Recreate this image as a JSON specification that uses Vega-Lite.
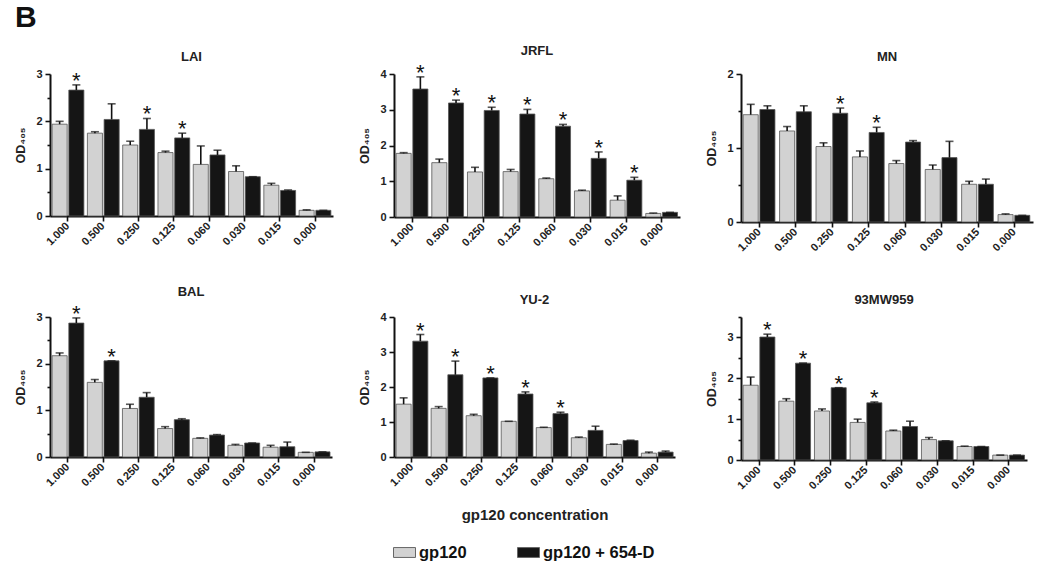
{
  "$schema": "https://vega.github.io/schema/vega-lite/v6.json",
  "background": "white",
  "padding": {"left": 14, "top": 2, "right": 5, "bottom": 5},
  "title": {"text": "B", "anchor": "start", "fontSize": 30, "font": "Liberation Sans", "fontWeight": "bold", "color": "#111", "frame": "bounds", "offset": 12},
  "datasets": {
    "d": [
      {"s": "LAI", "c": "1.000", "g": "gp120", "m": 1.94, "hi": 2.0, "sig": false},
      {"s": "LAI", "c": "1.000", "g": "gp120 + 654-D", "m": 2.66, "hi": 2.77, "sig": true},
      {"s": "LAI", "c": "0.500", "g": "gp120", "m": 1.75, "hi": 1.78, "sig": false},
      {"s": "LAI", "c": "0.500", "g": "gp120 + 654-D", "m": 2.04, "hi": 2.37, "sig": false},
      {"s": "LAI", "c": "0.250", "g": "gp120", "m": 1.5, "hi": 1.58, "sig": false},
      {"s": "LAI", "c": "0.250", "g": "gp120 + 654-D", "m": 1.83, "hi": 2.06, "sig": true},
      {"s": "LAI", "c": "0.125", "g": "gp120", "m": 1.34, "hi": 1.37, "sig": false},
      {"s": "LAI", "c": "0.125", "g": "gp120 + 654-D", "m": 1.65, "hi": 1.75, "sig": true},
      {"s": "LAI", "c": "0.060", "g": "gp120", "m": 1.09, "hi": 1.48, "sig": false},
      {"s": "LAI", "c": "0.060", "g": "gp120 + 654-D", "m": 1.29, "hi": 1.39, "sig": false},
      {"s": "LAI", "c": "0.030", "g": "gp120", "m": 0.94, "hi": 1.06, "sig": false},
      {"s": "LAI", "c": "0.030", "g": "gp120 + 654-D", "m": 0.83, "hi": 0.83, "sig": false},
      {"s": "LAI", "c": "0.015", "g": "gp120", "m": 0.65, "hi": 0.69, "sig": false},
      {"s": "LAI", "c": "0.015", "g": "gp120 + 654-D", "m": 0.54, "hi": 0.55, "sig": false},
      {"s": "LAI", "c": "0.000", "g": "gp120", "m": 0.12, "hi": 0.13, "sig": false},
      {"s": "LAI", "c": "0.000", "g": "gp120 + 654-D", "m": 0.12, "hi": 0.12, "sig": false},

      {"s": "JRFL", "c": "1.000", "g": "gp120", "m": 1.78, "hi": 1.8, "sig": false},
      {"s": "JRFL", "c": "1.000", "g": "gp120 + 654-D", "m": 3.58, "hi": 3.92, "sig": true},
      {"s": "JRFL", "c": "0.500", "g": "gp120", "m": 1.52, "hi": 1.62, "sig": false},
      {"s": "JRFL", "c": "0.500", "g": "gp120 + 654-D", "m": 3.19, "hi": 3.27, "sig": true},
      {"s": "JRFL", "c": "0.250", "g": "gp120", "m": 1.26, "hi": 1.39, "sig": false},
      {"s": "JRFL", "c": "0.250", "g": "gp120 + 654-D", "m": 2.98, "hi": 3.07, "sig": true},
      {"s": "JRFL", "c": "0.125", "g": "gp120", "m": 1.27, "hi": 1.33, "sig": false},
      {"s": "JRFL", "c": "0.125", "g": "gp120 + 654-D", "m": 2.88, "hi": 3.01, "sig": true},
      {"s": "JRFL", "c": "0.060", "g": "gp120", "m": 1.07, "hi": 1.09, "sig": false},
      {"s": "JRFL", "c": "0.060", "g": "gp120 + 654-D", "m": 2.54, "hi": 2.59, "sig": true},
      {"s": "JRFL", "c": "0.030", "g": "gp120", "m": 0.73, "hi": 0.75, "sig": false},
      {"s": "JRFL", "c": "0.030", "g": "gp120 + 654-D", "m": 1.64, "hi": 1.82, "sig": true},
      {"s": "JRFL", "c": "0.015", "g": "gp120", "m": 0.47, "hi": 0.59, "sig": false},
      {"s": "JRFL", "c": "0.015", "g": "gp120 + 654-D", "m": 1.03, "hi": 1.11, "sig": true},
      {"s": "JRFL", "c": "0.000", "g": "gp120", "m": 0.1, "hi": 0.11, "sig": false},
      {"s": "JRFL", "c": "0.000", "g": "gp120 + 654-D", "m": 0.13, "hi": 0.13, "sig": false},

      {"s": "MN", "c": "1.000", "g": "gp120", "m": 1.45, "hi": 1.59, "sig": false},
      {"s": "MN", "c": "1.000", "g": "gp120 + 654-D", "m": 1.52, "hi": 1.57, "sig": false},
      {"s": "MN", "c": "0.500", "g": "gp120", "m": 1.23, "hi": 1.29, "sig": false},
      {"s": "MN", "c": "0.500", "g": "gp120 + 654-D", "m": 1.49, "hi": 1.57, "sig": false},
      {"s": "MN", "c": "0.250", "g": "gp120", "m": 1.02, "hi": 1.07, "sig": false},
      {"s": "MN", "c": "0.250", "g": "gp120 + 654-D", "m": 1.47, "hi": 1.54, "sig": true},
      {"s": "MN", "c": "0.125", "g": "gp120", "m": 0.88, "hi": 0.96, "sig": false},
      {"s": "MN", "c": "0.125", "g": "gp120 + 654-D", "m": 1.21, "hi": 1.28, "sig": true},
      {"s": "MN", "c": "0.060", "g": "gp120", "m": 0.79, "hi": 0.83, "sig": false},
      {"s": "MN", "c": "0.060", "g": "gp120 + 654-D", "m": 1.08, "hi": 1.1, "sig": false},
      {"s": "MN", "c": "0.030", "g": "gp120", "m": 0.71, "hi": 0.77, "sig": false},
      {"s": "MN", "c": "0.030", "g": "gp120 + 654-D", "m": 0.87, "hi": 1.09, "sig": false},
      {"s": "MN", "c": "0.015", "g": "gp120", "m": 0.51, "hi": 0.55, "sig": false},
      {"s": "MN", "c": "0.015", "g": "gp120 + 654-D", "m": 0.51, "hi": 0.58, "sig": false},
      {"s": "MN", "c": "0.000", "g": "gp120", "m": 0.1, "hi": 0.11, "sig": false},
      {"s": "MN", "c": "0.000", "g": "gp120 + 654-D", "m": 0.09, "hi": 0.09, "sig": false},

      {"s": "BAL", "c": "1.000", "g": "gp120", "m": 2.17, "hi": 2.23, "sig": false},
      {"s": "BAL", "c": "1.000", "g": "gp120 + 654-D", "m": 2.87, "hi": 2.98, "sig": true},
      {"s": "BAL", "c": "0.500", "g": "gp120", "m": 1.6, "hi": 1.66, "sig": false},
      {"s": "BAL", "c": "0.500", "g": "gp120 + 654-D", "m": 2.06, "hi": 2.06, "sig": true},
      {"s": "BAL", "c": "0.250", "g": "gp120", "m": 1.04, "hi": 1.13, "sig": false},
      {"s": "BAL", "c": "0.250", "g": "gp120 + 654-D", "m": 1.28, "hi": 1.38, "sig": false},
      {"s": "BAL", "c": "0.125", "g": "gp120", "m": 0.61, "hi": 0.65, "sig": false},
      {"s": "BAL", "c": "0.125", "g": "gp120 + 654-D", "m": 0.8, "hi": 0.82, "sig": false},
      {"s": "BAL", "c": "0.060", "g": "gp120", "m": 0.4, "hi": 0.41, "sig": false},
      {"s": "BAL", "c": "0.060", "g": "gp120 + 654-D", "m": 0.47, "hi": 0.48, "sig": false},
      {"s": "BAL", "c": "0.030", "g": "gp120", "m": 0.25, "hi": 0.27, "sig": false},
      {"s": "BAL", "c": "0.030", "g": "gp120 + 654-D", "m": 0.3, "hi": 0.3, "sig": false},
      {"s": "BAL", "c": "0.015", "g": "gp120", "m": 0.21, "hi": 0.25, "sig": false},
      {"s": "BAL", "c": "0.015", "g": "gp120 + 654-D", "m": 0.22, "hi": 0.32, "sig": false},
      {"s": "BAL", "c": "0.000", "g": "gp120", "m": 0.1, "hi": 0.1, "sig": false},
      {"s": "BAL", "c": "0.000", "g": "gp120 + 654-D", "m": 0.11, "hi": 0.11, "sig": false},

      {"s": "YU-2", "c": "1.000", "g": "gp120", "m": 1.51, "hi": 1.69, "sig": false},
      {"s": "YU-2", "c": "1.000", "g": "gp120 + 654-D", "m": 3.31, "hi": 3.5, "sig": true},
      {"s": "YU-2", "c": "0.500", "g": "gp120", "m": 1.39, "hi": 1.44, "sig": false},
      {"s": "YU-2", "c": "0.500", "g": "gp120 + 654-D", "m": 2.35, "hi": 2.74, "sig": true},
      {"s": "YU-2", "c": "0.250", "g": "gp120", "m": 1.18, "hi": 1.22, "sig": false},
      {"s": "YU-2", "c": "0.250", "g": "gp120 + 654-D", "m": 2.26, "hi": 2.26, "sig": true},
      {"s": "YU-2", "c": "0.125", "g": "gp120", "m": 1.02, "hi": 1.02, "sig": false},
      {"s": "YU-2", "c": "0.125", "g": "gp120 + 654-D", "m": 1.8, "hi": 1.86, "sig": true},
      {"s": "YU-2", "c": "0.060", "g": "gp120", "m": 0.84, "hi": 0.85, "sig": false},
      {"s": "YU-2", "c": "0.060", "g": "gp120 + 654-D", "m": 1.24, "hi": 1.28, "sig": true},
      {"s": "YU-2", "c": "0.030", "g": "gp120", "m": 0.55, "hi": 0.57, "sig": false},
      {"s": "YU-2", "c": "0.030", "g": "gp120 + 654-D", "m": 0.76, "hi": 0.88, "sig": false},
      {"s": "YU-2", "c": "0.015", "g": "gp120", "m": 0.36, "hi": 0.37, "sig": false},
      {"s": "YU-2", "c": "0.015", "g": "gp120 + 654-D", "m": 0.47, "hi": 0.48, "sig": false},
      {"s": "YU-2", "c": "0.000", "g": "gp120", "m": 0.11, "hi": 0.14, "sig": false},
      {"s": "YU-2", "c": "0.000", "g": "gp120 + 654-D", "m": 0.14, "hi": 0.17, "sig": false},

      {"s": "93MW959", "c": "1.000", "g": "gp120", "m": 1.83, "hi": 2.03, "sig": false},
      {"s": "93MW959", "c": "1.000", "g": "gp120 + 654-D", "m": 3.01, "hi": 3.08, "sig": true},
      {"s": "93MW959", "c": "0.500", "g": "gp120", "m": 1.44, "hi": 1.5, "sig": false},
      {"s": "93MW959", "c": "0.500", "g": "gp120 + 654-D", "m": 2.37, "hi": 2.37, "sig": true},
      {"s": "93MW959", "c": "0.250", "g": "gp120", "m": 1.2, "hi": 1.25, "sig": false},
      {"s": "93MW959", "c": "0.250", "g": "gp120 + 654-D", "m": 1.77, "hi": 1.77, "sig": true},
      {"s": "93MW959", "c": "0.125", "g": "gp120", "m": 0.92, "hi": 1.0, "sig": false},
      {"s": "93MW959", "c": "0.125", "g": "gp120 + 654-D", "m": 1.4, "hi": 1.42, "sig": true},
      {"s": "93MW959", "c": "0.060", "g": "gp120", "m": 0.71, "hi": 0.73, "sig": false},
      {"s": "93MW959", "c": "0.060", "g": "gp120 + 654-D", "m": 0.82, "hi": 0.95, "sig": false},
      {"s": "93MW959", "c": "0.030", "g": "gp120", "m": 0.5, "hi": 0.55, "sig": false},
      {"s": "93MW959", "c": "0.030", "g": "gp120 + 654-D", "m": 0.47, "hi": 0.47, "sig": false},
      {"s": "93MW959", "c": "0.015", "g": "gp120", "m": 0.33, "hi": 0.34, "sig": false},
      {"s": "93MW959", "c": "0.015", "g": "gp120 + 654-D", "m": 0.33, "hi": 0.33, "sig": false},
      {"s": "93MW959", "c": "0.000", "g": "gp120", "m": 0.12, "hi": 0.12, "sig": false},
      {"s": "93MW959", "c": "0.000", "g": "gp120 + 654-D", "m": 0.12, "hi": 0.12, "sig": false}
    ]
  },
  "columns": 3,
  "spacing": {"column": 25, "row": 32},
  "concat": [
    {
      "width": 283, "height": 142,
      "title": "LAI",
      "data": {"name": "d"},
      "transform": [{"filter": "datum.s === 'LAI'"}],
      "encoding": {
        "x": {"field": "c", "type": "nominal", "sort": null, "title": null, "scale": {"paddingInner": 0.1, "paddingOuter": 0.06}},
        "xOffset": {"field": "g", "type": "nominal", "sort": null, "scale": {"paddingInner": 0.1}}
      },
      "layer": [
        {"mark": {"type": "bar", "stroke": "#555", "strokeWidth": 0.8},
         "encoding": {
           "y": {"field": "m", "type": "quantitative", "scale": {"domain": [0, 3], "nice": false}, "title": "OD₄₀₅",
                 "axis": {"values": [0, 0.5, 1, 1.5, 2, 2.5, 3], "labelOverlap": false, "labelExpr": "datum.value % 1 === 0 ? '' + datum.value : ''", "tickSize": {"condition": {"test": "datum.value % 1 === 0", "value": 5}, "value": 3}}},
           "color": {"field": "g", "type": "nominal", "sort": null, "scale": {"domain": ["gp120", "gp120 + 654-D"], "range": ["#d2d2d2", "#151515"]}}
         }},
        {"mark": {"type": "rule", "color": "#111", "strokeWidth": 1.6}, "encoding": {"y": {"field": "m", "type": "quantitative", "title": "OD₄₀₅", "axis": {"values": [0, 0.5, 1, 1.5, 2, 2.5, 3], "labelOverlap": false, "labelExpr": "datum.value % 1 === 0 ? '' + datum.value : ''", "tickSize": {"condition": {"test": "datum.value % 1 === 0", "value": 5}, "value": 3}}}, "y2": {"field": "hi"}}},
        {"mark": {"type": "tick", "color": "#111", "thickness": 1.6, "size": 8}, "encoding": {"y": {"field": "hi", "type": "quantitative", "title": "OD₄₀₅", "axis": {"values": [0, 0.5, 1, 1.5, 2, 2.5, 3], "labelOverlap": false, "labelExpr": "datum.value % 1 === 0 ? '' + datum.value : ''", "tickSize": {"condition": {"test": "datum.value % 1 === 0", "value": 5}, "value": 3}}}}},
        {"transform": [{"filter": "datum.sig"}], "mark": {"type": "text", "text": "*", "fontSize": 22, "font": "Liberation Sans", "color": "#111", "baseline": "alphabetic", "dy": 3}, "encoding": {"y": {"field": "hi", "type": "quantitative", "title": "OD₄₀₅", "axis": {"values": [0, 0.5, 1, 1.5, 2, 2.5, 3], "labelOverlap": false, "labelExpr": "datum.value % 1 === 0 ? '' + datum.value : ''", "tickSize": {"condition": {"test": "datum.value % 1 === 0", "value": 5}, "value": 3}}}}}
      ]
    },
    {
      "width": 286, "height": 143,
      "title": "JRFL",
      "data": {"name": "d"},
      "transform": [{"filter": "datum.s === 'JRFL'"}],
      "encoding": {
        "x": {"field": "c", "type": "nominal", "sort": null, "title": null, "scale": {"paddingInner": 0.1, "paddingOuter": 0.06}},
        "xOffset": {"field": "g", "type": "nominal", "sort": null, "scale": {"paddingInner": 0.1}}
      },
      "layer": [
        {"mark": {"type": "bar", "stroke": "#555", "strokeWidth": 0.8},
         "encoding": {
           "y": {"field": "m", "type": "quantitative", "scale": {"domain": [0, 4], "nice": false}, "title": "OD₄₀₅",
                 "axis": {"values": [0, 1, 2, 3, 4], "format": "d", "labelOverlap": false}},
           "color": {"field": "g", "type": "nominal", "sort": null, "scale": {"domain": ["gp120", "gp120 + 654-D"], "range": ["#d2d2d2", "#151515"]}}
         }},
        {"mark": {"type": "rule", "color": "#111", "strokeWidth": 1.6}, "encoding": {"y": {"field": "m", "type": "quantitative", "title": "OD₄₀₅", "axis": {"values": [0, 1, 2, 3, 4], "format": "d", "labelOverlap": false}}, "y2": {"field": "hi"}}},
        {"mark": {"type": "tick", "color": "#111", "thickness": 1.6, "size": 8}, "encoding": {"y": {"field": "hi", "type": "quantitative", "title": "OD₄₀₅", "axis": {"values": [0, 1, 2, 3, 4], "format": "d", "labelOverlap": false}}}},
        {"transform": [{"filter": "datum.sig"}], "mark": {"type": "text", "text": "*", "fontSize": 22, "font": "Liberation Sans", "color": "#111", "baseline": "alphabetic", "dy": 3}, "encoding": {"y": {"field": "hi", "type": "quantitative", "title": "OD₄₀₅", "axis": {"values": [0, 1, 2, 3, 4], "format": "d", "labelOverlap": false}}}}
      ]
    },
    {
      "width": 292, "height": 148,
      "title": "MN",
      "data": {"name": "d"},
      "transform": [{"filter": "datum.s === 'MN'"}],
      "encoding": {
        "x": {"field": "c", "type": "nominal", "sort": null, "title": null, "scale": {"paddingInner": 0.1, "paddingOuter": 0.06}},
        "xOffset": {"field": "g", "type": "nominal", "sort": null, "scale": {"paddingInner": 0.1}}
      },
      "layer": [
        {"mark": {"type": "bar", "stroke": "#555", "strokeWidth": 0.8},
         "encoding": {
           "y": {"field": "m", "type": "quantitative", "scale": {"domain": [0, 2], "nice": false}, "title": "OD₄₀₅",
                 "axis": {"values": [0, 0.5, 1, 1.5, 2], "labelOverlap": false, "labelExpr": "datum.value % 1 === 0 ? '' + datum.value : ''", "tickSize": {"condition": {"test": "datum.value % 1 === 0", "value": 5}, "value": 3}}},
           "color": {"field": "g", "type": "nominal", "sort": null, "scale": {"domain": ["gp120", "gp120 + 654-D"], "range": ["#d2d2d2", "#151515"]}}
         }},
        {"mark": {"type": "rule", "color": "#111", "strokeWidth": 1.6}, "encoding": {"y": {"field": "m", "type": "quantitative", "title": "OD₄₀₅", "axis": {"values": [0, 0.5, 1, 1.5, 2], "labelOverlap": false, "labelExpr": "datum.value % 1 === 0 ? '' + datum.value : ''", "tickSize": {"condition": {"test": "datum.value % 1 === 0", "value": 5}, "value": 3}}}, "y2": {"field": "hi"}}},
        {"mark": {"type": "tick", "color": "#111", "thickness": 1.6, "size": 8}, "encoding": {"y": {"field": "hi", "type": "quantitative", "title": "OD₄₀₅", "axis": {"values": [0, 0.5, 1, 1.5, 2], "labelOverlap": false, "labelExpr": "datum.value % 1 === 0 ? '' + datum.value : ''", "tickSize": {"condition": {"test": "datum.value % 1 === 0", "value": 5}, "value": 3}}}}},
        {"transform": [{"filter": "datum.sig"}], "mark": {"type": "text", "text": "*", "fontSize": 22, "font": "Liberation Sans", "color": "#111", "baseline": "alphabetic", "dy": 3}, "encoding": {"y": {"field": "hi", "type": "quantitative", "title": "OD₄₀₅", "axis": {"values": [0, 0.5, 1, 1.5, 2], "labelOverlap": false, "labelExpr": "datum.value % 1 === 0 ? '' + datum.value : ''", "tickSize": {"condition": {"test": "datum.value % 1 === 0", "value": 5}, "value": 3}}}}}
      ]
    },
    {
      "width": 282, "height": 140,
      "title": "BAL",
      "data": {"name": "d"},
      "transform": [{"filter": "datum.s === 'BAL'"}],
      "encoding": {
        "x": {"field": "c", "type": "nominal", "sort": null, "title": null, "scale": {"paddingInner": 0.1, "paddingOuter": 0.06}},
        "xOffset": {"field": "g", "type": "nominal", "sort": null, "scale": {"paddingInner": 0.1}}
      },
      "layer": [
        {"mark": {"type": "bar", "stroke": "#555", "strokeWidth": 0.8},
         "encoding": {
           "y": {"field": "m", "type": "quantitative", "scale": {"domain": [0, 3], "nice": false}, "title": "OD₄₀₅",
                 "axis": {"values": [0, 0.5, 1, 1.5, 2, 2.5, 3], "labelOverlap": false, "labelExpr": "datum.value % 1 === 0 ? '' + datum.value : ''", "tickSize": {"condition": {"test": "datum.value % 1 === 0", "value": 5}, "value": 3}}},
           "color": {"field": "g", "type": "nominal", "sort": null, "scale": {"domain": ["gp120", "gp120 + 654-D"], "range": ["#d2d2d2", "#151515"]}}
         }},
        {"mark": {"type": "rule", "color": "#111", "strokeWidth": 1.6}, "encoding": {"y": {"field": "m", "type": "quantitative", "title": "OD₄₀₅", "axis": {"values": [0, 0.5, 1, 1.5, 2, 2.5, 3], "labelOverlap": false, "labelExpr": "datum.value % 1 === 0 ? '' + datum.value : ''", "tickSize": {"condition": {"test": "datum.value % 1 === 0", "value": 5}, "value": 3}}}, "y2": {"field": "hi"}}},
        {"mark": {"type": "tick", "color": "#111", "thickness": 1.6, "size": 8}, "encoding": {"y": {"field": "hi", "type": "quantitative", "title": "OD₄₀₅", "axis": {"values": [0, 0.5, 1, 1.5, 2, 2.5, 3], "labelOverlap": false, "labelExpr": "datum.value % 1 === 0 ? '' + datum.value : ''", "tickSize": {"condition": {"test": "datum.value % 1 === 0", "value": 5}, "value": 3}}}}},
        {"transform": [{"filter": "datum.sig"}], "mark": {"type": "text", "text": "*", "fontSize": 22, "font": "Liberation Sans", "color": "#111", "baseline": "alphabetic", "dy": 3}, "encoding": {"y": {"field": "hi", "type": "quantitative", "title": "OD₄₀₅", "axis": {"values": [0, 0.5, 1, 1.5, 2, 2.5, 3], "labelOverlap": false, "labelExpr": "datum.value % 1 === 0 ? '' + datum.value : ''", "tickSize": {"condition": {"test": "datum.value % 1 === 0", "value": 5}, "value": 3}}}}}
      ]
    },
    {
      "width": 281, "height": 140,
      "title": "YU-2",
      "data": {"name": "d"},
      "transform": [{"filter": "datum.s === 'YU-2'"}],
      "encoding": {
        "x": {"field": "c", "type": "nominal", "sort": null, "title": "gp120 concentration", "scale": {"paddingInner": 0.1, "paddingOuter": 0.06}},
        "xOffset": {"field": "g", "type": "nominal", "sort": null, "scale": {"paddingInner": 0.1}}
      },
      "layer": [
        {"mark": {"type": "bar", "stroke": "#555", "strokeWidth": 0.8},
         "encoding": {
           "y": {"field": "m", "type": "quantitative", "scale": {"domain": [0, 4], "nice": false}, "title": "OD₄₀₅",
                 "axis": {"values": [0, 1, 2, 3, 4], "format": "d", "labelOverlap": false}},
           "color": {"field": "g", "type": "nominal", "sort": null, "scale": {"domain": ["gp120", "gp120 + 654-D"], "range": ["#d2d2d2", "#151515"]}}
         }},
        {"mark": {"type": "rule", "color": "#111", "strokeWidth": 1.6}, "encoding": {"y": {"field": "m", "type": "quantitative", "title": "OD₄₀₅", "axis": {"values": [0, 1, 2, 3, 4], "format": "d", "labelOverlap": false}}, "y2": {"field": "hi"}}},
        {"mark": {"type": "tick", "color": "#111", "thickness": 1.6, "size": 8}, "encoding": {"y": {"field": "hi", "type": "quantitative", "title": "OD₄₀₅", "axis": {"values": [0, 1, 2, 3, 4], "format": "d", "labelOverlap": false}}}},
        {"transform": [{"filter": "datum.sig"}], "mark": {"type": "text", "text": "*", "fontSize": 22, "font": "Liberation Sans", "color": "#111", "baseline": "alphabetic", "dy": 3}, "encoding": {"y": {"field": "hi", "type": "quantitative", "title": "OD₄₀₅", "axis": {"values": [0, 1, 2, 3, 4], "format": "d", "labelOverlap": false}}}}
      ]
    },
    {
      "width": 286, "height": 143,
      "title": "93MW959",
      "data": {"name": "d"},
      "transform": [{"filter": "datum.s === '93MW959'"}],
      "encoding": {
        "x": {"field": "c", "type": "nominal", "sort": null, "title": null, "scale": {"paddingInner": 0.1, "paddingOuter": 0.06}},
        "xOffset": {"field": "g", "type": "nominal", "sort": null, "scale": {"paddingInner": 0.1}}
      },
      "layer": [
        {"mark": {"type": "bar", "stroke": "#555", "strokeWidth": 0.8},
         "encoding": {
           "y": {"field": "m", "type": "quantitative", "scale": {"domain": [0, 3.5], "nice": false}, "title": "OD₄₀₅",
                 "axis": {"values": [0, 0.5, 1, 1.5, 2, 2.5, 3, 3.5], "labelOverlap": false, "labelExpr": "datum.value % 1 === 0 ? '' + datum.value : ''", "tickSize": {"condition": {"test": "datum.value % 1 === 0", "value": 5}, "value": 3}}},
           "color": {"field": "g", "type": "nominal", "sort": null, "scale": {"domain": ["gp120", "gp120 + 654-D"], "range": ["#d2d2d2", "#151515"]}}
         }},
        {"mark": {"type": "rule", "color": "#111", "strokeWidth": 1.6}, "encoding": {"y": {"field": "m", "type": "quantitative", "title": "OD₄₀₅", "axis": {"values": [0, 0.5, 1, 1.5, 2, 2.5, 3, 3.5], "labelOverlap": false, "labelExpr": "datum.value % 1 === 0 ? '' + datum.value : ''", "tickSize": {"condition": {"test": "datum.value % 1 === 0", "value": 5}, "value": 3}}}, "y2": {"field": "hi"}}},
        {"mark": {"type": "tick", "color": "#111", "thickness": 1.6, "size": 8}, "encoding": {"y": {"field": "hi", "type": "quantitative", "title": "OD₄₀₅", "axis": {"values": [0, 0.5, 1, 1.5, 2, 2.5, 3, 3.5], "labelOverlap": false, "labelExpr": "datum.value % 1 === 0 ? '' + datum.value : ''", "tickSize": {"condition": {"test": "datum.value % 1 === 0", "value": 5}, "value": 3}}}}},
        {"transform": [{"filter": "datum.sig"}], "mark": {"type": "text", "text": "*", "fontSize": 22, "font": "Liberation Sans", "color": "#111", "baseline": "alphabetic", "dy": 3}, "encoding": {"y": {"field": "hi", "type": "quantitative", "title": "OD₄₀₅", "axis": {"values": [0, 0.5, 1, 1.5, 2, 2.5, 3, 3.5], "labelOverlap": false, "labelExpr": "datum.value % 1 === 0 ? '' + datum.value : ''", "tickSize": {"condition": {"test": "datum.value % 1 === 0", "value": 5}, "value": 3}}}}}
      ]
    }
  ],
  "config": {
    "view": {"stroke": null},
    "font": "Liberation Sans",
    "title": {"fontSize": 13, "fontWeight": "bold", "color": "#222", "offset": 4},
    "axis": {
      "grid": false, "domainColor": "#111", "domainWidth": 2, "tickColor": "#111", "tickWidth": 1.6, "tickSize": 5,
      "labelFont": "Liberation Sans", "labelFontWeight": "bold", "labelFontSize": 11, "labelColor": "#222", "labelOverlap": false,
      "titleFont": "Liberation Sans", "titleFontWeight": "bold", "titleFontSize": 12.5, "titleColor": "#222"
    },
    "axisX": {"labelAngle": -45, "labelAlign": "right", "labelBaseline": "middle", "labelPadding": 3, "titleFontSize": 15, "titlePadding": 20},
    "axisY": {"labelPadding": 3, "titlePadding": 8},
    "legend": {
      "orient": "bottom", "direction": "horizontal", "title": null,
      "symbolType": "M-1,-0.45H1V0.45H-1Z", "symbolSize": 484, "symbolStrokeColor": "#666", "symbolStrokeWidth": 1, "symbolOpacity": 1,
      "labelFont": "Liberation Sans", "labelFontWeight": "bold", "labelFontSize": 16.5, "labelColor": "#111",
      "columnPadding": 48, "labelOffset": 3, "offset": 18,
      "layout": {"bottom": {"anchor": "middle"}}
    }
  }
}
